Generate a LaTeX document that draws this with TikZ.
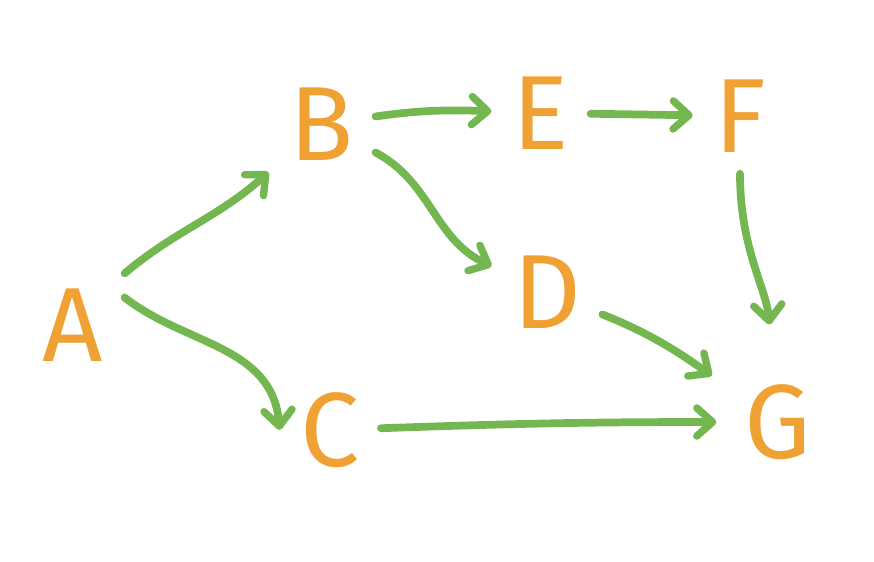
\documentclass[tikz,border=0pt]{standalone}
\usepackage{fontspec}
\setmainfont{Fira Sans}
\usetikzlibrary{arrows.meta, positioning}
\definecolor{vtxorange}{HTML}{F0A133}
\definecolor{edgegreen}{HTML}{74B751}
\tikzset{
	vtx/.style={font=\fontsize{60}{64}\selectfont\color{vtxorange}, inner sep=12pt},
	edge/.style={draw=edgegreen, line width=4.4pt, line cap=round,
	  -{Straight Barb[length=9pt, width=16pt, line width=4.2pt, round]}}
}

\begin{document}
\begin{tikzpicture}[x=0.02cm, y=0.02cm]
      \useasboundingbox (0,0) rectangle (874,-561);
      % vertices
      \node[vtx] (A) at (73,-325) {A};
      \node[vtx] (B) at (322,-124) {B};
      \node[vtx] (E) at (541,-113) {E};
      \node[vtx] (F) at (740,-116) {F};
      \node[vtx] (D) at (547,-292) {D};
      \node[vtx] (C) at (330,-430) {C};
      \node[vtx] (G) at (778,-422) {G};
      % edges
      \draw[edge] (A.45) to[out=40, in=222] (B);
      \draw[edge, shorten >=-4pt] (A.28) to[out=-38, in=95] (C.172);
      \draw[edge] (B) to[out=8, in=178] (E);
      \draw[edge] (B) to[out=-28, in=155] (D);
      \draw[edge] (E) -- (F);
      \draw[edge, shorten >=22pt] (F) to[out=-90, in=95] (G);
      \draw[edge, shorten >=8pt] (D) to[out=-22, in=145] (G);
      \draw[edge, shorten >=4pt] (C) to[out=2, in=180] (G);
    \end{tikzpicture}
\end{document}
